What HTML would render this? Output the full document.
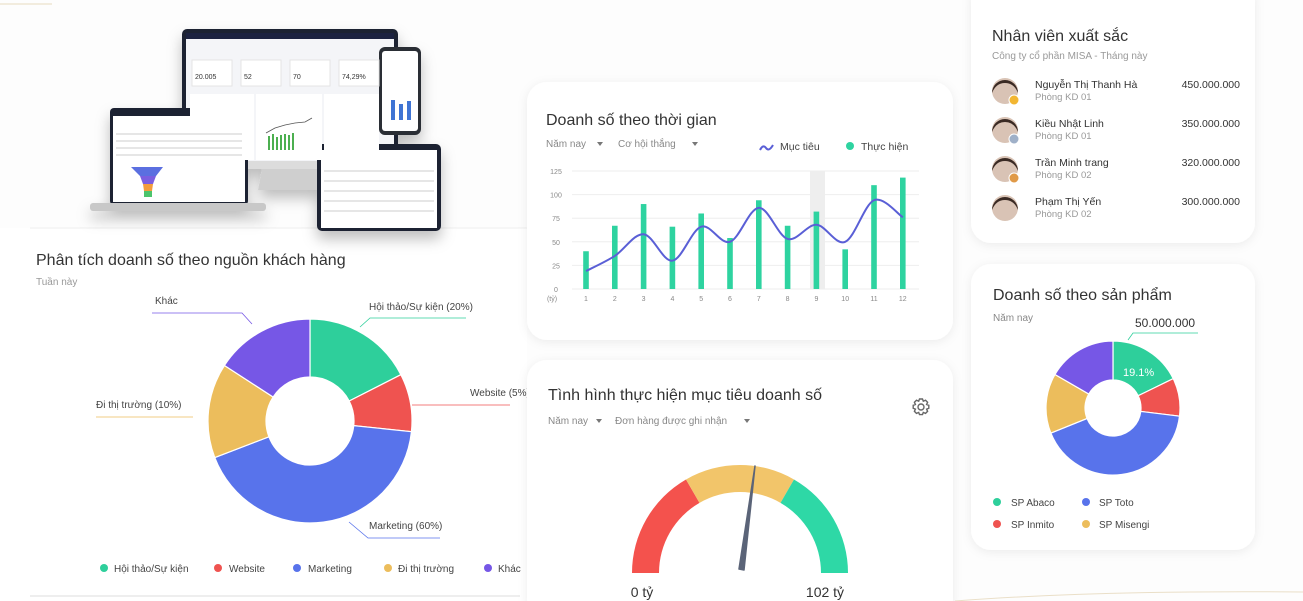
<!DOCTYPE html>
<html><head><meta charset="utf-8"><style>
html,body{margin:0;padding:0;background:#fdfdfd;width:1303px;height:601px;overflow:hidden;}
svg{display:block;font-family:"Liberation Sans","DejaVu Sans",sans-serif;}
</style></head><body>
<svg id="s" width="1303" height="601" viewBox="0 0 1303 601" xmlns="http://www.w3.org/2000/svg">
<defs>
<filter id="sh" x="-10%" y="-10%" width="120%" height="130%"><feDropShadow dx="0" dy="2" stdDeviation="5" flood-color="#000" flood-opacity="0.07"/></filter>
<filter id="dsh" x="-20%" y="-20%" width="140%" height="160%"><feDropShadow dx="0" dy="8" stdDeviation="7" flood-color="#000" flood-opacity="0.25"/></filter>
</defs>
<rect x="0" y="0" width="1303" height="601" fill="#fdfdfd"/>
<rect x="0" y="228" width="527" height="373" fill="#fff"/>
<line x1="0" y1="4" x2="52" y2="4" stroke="#e8dcc0" stroke-width="1"/>
<line x1="30" y1="228" x2="527" y2="228" stroke="#eee"/>
<line x1="30" y1="596" x2="520" y2="596" stroke="#eee" stroke-width="2"/>

<!-- devices -->
<g filter="url(#dsh)">
<rect x="182" y="29" width="216" height="136" rx="5" fill="#1d2230"/>
<rect x="186" y="39" width="208" height="122" fill="#f4f5f8"/>
<rect x="186" y="33" width="208" height="6" fill="#1b2040"/>
<rect x="186" y="161" width="208" height="8" fill="#dcdcdc"/>
<path d="M262 169 L318 169 L322 190 L258 190 Z" fill="#cfcfcf"/>
<rect x="110" y="108" width="138" height="97" rx="4" fill="#1d2230"/>
<rect x="113" y="116" width="132" height="86" fill="#fff"/>
<rect x="90" y="203" width="176" height="8" rx="3" fill="#c8c8c8"/>
<rect x="317" y="144" width="124" height="87" rx="5" fill="#1d2230"/>
<rect x="321" y="150" width="116" height="78" fill="#fff"/>
<rect x="379" y="47" width="42" height="88" rx="6" fill="#2a2d35"/>
<rect x="382" y="51" width="36" height="80" rx="3" fill="#fff"/>
</g>
<g>
<rect x="192" y="60" width="40" height="26" fill="#fff" stroke="#e4e4e4"/><text x="195" y="79" font-size="7" fill="#333">20.005</text>
<rect x="241" y="60" width="40" height="26" fill="#fff" stroke="#e4e4e4"/><text x="244" y="79" font-size="7" fill="#333">52</text>
<rect x="290" y="60" width="40" height="26" fill="#fff" stroke="#e4e4e4"/><text x="293" y="79" font-size="7" fill="#333">70</text>
<rect x="339" y="60" width="40" height="26" fill="#fff" stroke="#e4e4e4"/><text x="342" y="79" font-size="7" fill="#333">74,29%</text>
<rect x="190" y="94" width="64" height="66" fill="#fff"/><rect x="256" y="94" width="66" height="66" fill="#fff"/><rect x="324" y="94" width="55" height="66" fill="#fff"/>
<g fill="#4caf50"><rect x="268" y="136" width="2" height="14"/><rect x="272" y="134" width="2" height="16"/><rect x="276" y="137" width="2" height="13"/><rect x="280" y="135" width="2" height="15"/><rect x="284" y="134" width="2" height="16"/><rect x="288" y="135" width="2" height="15"/><rect x="292" y="133" width="2" height="17"/></g>
<polyline points="266,133 275,128 285,125 295,123 305,122 312,118" fill="none" stroke="#555" stroke-width="0.8"/>
<g fill="#3f74d4"><rect x="391" y="100" width="4" height="20"/><rect x="399" y="104" width="4" height="16"/><rect x="407" y="101" width="4" height="19"/></g>
<path d="M131 167 L163 167 L156 176 L140 176 Z" fill="#5b6fe0"/><path d="M140 176 L156 176 L153 184 L143 184 Z" fill="#7b5ee0"/><path d="M143 184 L153 184 L152 191 L144 191 Z" fill="#f39c3c"/><rect x="144" y="191" width="8" height="6" fill="#4cc46c"/>
<g fill="#e6e6e6"><rect x="116" y="133" width="126" height="2"/><rect x="116" y="140" width="126" height="2"/><rect x="116" y="147" width="126" height="2"/><rect x="116" y="154" width="126" height="2"/><rect x="324" y="170" width="110" height="2"/><rect x="324" y="180" width="110" height="2"/><rect x="324" y="190" width="110" height="2"/><rect x="324" y="200" width="110" height="2"/><rect x="324" y="210" width="110" height="2"/></g>
</g>

<!-- left donut -->
<text x="36" y="265" font-size="16" fill="#333">Phân tích doanh số theo nguồn khách hàng</text>
<text x="36" y="285" font-size="10" fill="#999">Tuần này</text>
<g id="d1"></g>
<g font-size="10" fill="#444">
<text x="155" y="304">Khác</text>
<polyline points="152,313 242,313 252,324" fill="none" stroke="#7657e6" stroke-width="0.8"/>
<text x="369" y="310">Hội thảo/Sự kiện (20%)</text>
<polyline points="360,327 370,318 466,318" fill="none" stroke="#2ecf9b" stroke-width="0.8"/>
<text x="470" y="396">Website (5%)</text>
<line x1="412" y1="405" x2="510" y2="405" stroke="#ef5350" stroke-width="0.8"/>
<text x="96" y="408">Đi thị trường (10%)</text>
<line x1="96" y1="417" x2="193" y2="417" stroke="#ecbd5c" stroke-width="0.8"/>
<text x="369" y="529">Marketing (60%)</text>
<polyline points="349,522 368,538 440,538" fill="none" stroke="#5873eb" stroke-width="0.8"/>
</g>
<g font-size="10" fill="#444">
<circle cx="104" cy="568" r="4" fill="#2ecf9b"/><text x="114" y="572">Hội thảo/Sự kiện</text>
<circle cx="218" cy="568" r="4" fill="#ef5350"/><text x="229" y="572">Website</text>
<circle cx="297" cy="568" r="4" fill="#5873eb"/><text x="308" y="572">Marketing</text>
<circle cx="388" cy="568" r="4" fill="#ecbd5c"/><text x="398" y="572">Đi thị trường</text>
<circle cx="488" cy="568" r="4" fill="#7657e6"/><text x="498" y="572">Khác</text>
</g>

<!-- middle top card -->
<rect x="527" y="82" width="426" height="258" rx="20" fill="#fff" filter="url(#sh)"/>
<text x="546" y="125" font-size="16" fill="#333">Doanh số theo thời gian</text>
<g font-size="10" fill="#888">
<text x="546" y="147">Năm nay</text><path d="M597 142 l6 0 l-3 4 z" fill="#777"/>
<text x="618" y="147">Cơ hội thắng</text><path d="M692 142 l6 0 l-3 4 z" fill="#777"/>
</g>
<path d="M760 150 q3 -6 6 -2 t7 -3" fill="none" stroke="#5a5fd6" stroke-width="2"/>
<text x="780" y="150" font-size="10.5" fill="#444">Mục tiêu</text>
<circle cx="850" cy="146" r="4" fill="#2ed3a0"/>
<text x="861" y="150" font-size="10.5" fill="#444">Thực hiện</text>
<g id="bar"></g>

<!-- middle bottom card -->
<rect x="527" y="360" width="426" height="260" rx="20" fill="#fff" filter="url(#sh)"/>
<text x="548" y="400" font-size="16" fill="#333">Tình hình thực hiện mục tiêu doanh số</text>
<g font-size="10" fill="#888">
<text x="548" y="424">Năm nay</text><path d="M596 419 l6 0 l-3 4 z" fill="#777"/>
<text x="615" y="424">Đơn hàng được ghi nhận</text><path d="M744 419 l6 0 l-3 4 z" fill="#777"/>
</g>
<g transform="translate(921,407)" fill="none" stroke="#666" stroke-width="1.4">
<circle r="3"/>
<path d="M-1.5 -8 h3 l0.8 2.2 l2.2 -1 l2.1 2.1 l-1 2.2 l2.2 0.8 v3 l-2.2 0.8 l1 2.2 l-2.1 2.1 l-2.2 -1 l-0.8 2.2 h-3 l-0.8 -2.2 l-2.2 1 l-2.1 -2.1 l1 -2.2 l-2.2 -0.8 v-3 l2.2 -0.8 l-1 -2.2 l2.1 -2.1 l2.2 1 z"/>
</g>
<g id="gauge"></g>
<text x="642" y="597" font-size="14" fill="#333" text-anchor="middle">0 tỷ</text>
<text x="825" y="597" font-size="14" fill="#333" text-anchor="middle">102 tỷ</text>

<!-- right top card -->
<rect x="971" y="-20" width="284" height="263" rx="20" fill="#fff" filter="url(#sh)"/>
<text x="992" y="41" font-size="16" fill="#333">Nhân viên xuất sắc</text>
<text x="992" y="59" font-size="10" fill="#999">Công ty cổ phần MISA - Tháng này</text>
<g id="emp"></g>

<!-- right bottom card -->
<rect x="971" y="264" width="284" height="286" rx="20" fill="#fff" filter="url(#sh)"/>
<text x="993" y="300" font-size="16" fill="#333">Doanh số theo sản phẩm</text>
<text x="993" y="321" font-size="10" fill="#888">Năm nay</text>
<g id="d2"></g>
<text x="1135" y="327" font-size="12" fill="#333">50.000.000</text>
<polyline points="1128,340 1133,333 1198,333" fill="none" stroke="#2ecf9b" stroke-width="0.8"/>
<text x="1123" y="376" font-size="11" fill="#fff">19.1%</text>
<g font-size="10" fill="#444">
<circle cx="997" cy="502" r="4" fill="#2ecf9b"/><text x="1011" y="506">SP Abaco</text>
<circle cx="1086" cy="502" r="4" fill="#5873eb"/><text x="1099" y="506">SP Toto</text>
<circle cx="997" cy="524" r="4" fill="#ef5350"/><text x="1011" y="528">SP Inmito</text>
<circle cx="1086" cy="524" r="4" fill="#ecbd5c"/><text x="1099" y="528">SP Misengi</text>
</g>
<path d="M955 601 Q1100 590 1303 592" fill="none" stroke="#eadfc8"/>
</svg>
<script>
var NS="http://www.w3.org/2000/svg";
function el(p,t,a){var e=document.createElementNS(NS,t);for(var k in a)e.setAttribute(k,a[k]);p.appendChild(e);return e;}
function arc(cx,cy,R,r,a0,a1){function pt(rad,a){a=(a-90)*Math.PI/180;return [cx+rad*Math.cos(a),cy+rad*Math.sin(a)];}
var l=(a1-a0)>180?1:0,p1=pt(R,a0),p2=pt(R,a1),p3=pt(r,a1),p4=pt(r,a0);
return "M"+p1+" A"+R+","+R+" 0 "+l+" 1 "+p2+" L"+p3+" A"+r+","+r+" 0 "+l+" 0 "+p4+" Z";}
var cols=["#2ecf9b","#ef5350","#5873eb","#ecbd5c","#7657e6"];
function donut(g,cx,cy,R,r,angs){var G=document.getElementById(g);for(var i=0;i<5;i++)el(G,"path",{d:arc(cx,cy,R,r,angs[i],angs[i+1]),fill:cols[i],stroke:"#fff","stroke-width":1.2});}
donut("d1",310,421,102,44,[0,63,96,249,303,360]);
donut("d2",1113,408,67,28,[0,64,97,248,300,360]);
var B=document.getElementById("bar");
var y0=289,k=118/125;
[0,25,50,75,100,125].forEach(function(v){var y=y0-v*k;el(B,"line",{x1:572,x2:919,y1:y,y2:y,stroke:"#eee"});var t=el(B,"text",{x:556,y:y+3,"font-size":7,fill:"#888","text-anchor":"middle"});t.textContent=v;});
var t=el(B,"text",{x:552,y:301,"font-size":7,fill:"#888","text-anchor":"middle"});t.textContent="(tỷ)";
el(B,"rect",{x:810,y:y0-125*k,width:15,height:125*k,fill:"#eee"});
var bars=[40,67,90,66,80,54,94,67,82,42,110,118],line=[19,35,58,30,66,50,86,53,68,50,94,76];
var pts=[];
for(var i=0;i<12;i++){var x=586+i*28.8;el(B,"rect",{x:x-2.8,y:y0-bars[i]*k,width:5.6,height:bars[i]*k,fill:"#2ed3a0"});
var tt=el(B,"text",{x:x,y:301,"font-size":7,fill:"#888","text-anchor":"middle"});tt.textContent=i+1;pts.push([x,y0-line[i]*k]);}
var d="M"+pts[0];for(var i=0;i<11;i++){var p0=pts[Math.max(0,i-1)],p1=pts[i],p2=pts[i+1],p3=pts[Math.min(11,i+2)];
d+=" C"+[p1[0]+(p2[0]-p0[0])/6,p1[1]+(p2[1]-p0[1])/6]+" "+[p2[0]-(p3[0]-p1[0])/6,p2[1]-(p3[1]-p1[1])/6]+" "+p2;}
el(B,"path",{d:d,fill:"none",stroke:"#5a5fd6","stroke-width":2});
var Gg=document.getElementById("gauge");
el(Gg,"path",{d:arc(740,573,108,81,-90,-30),fill:"#f4524d"});
el(Gg,"path",{d:arc(740,573,108,81,-30,30),fill:"#f2c56a"});
el(Gg,"path",{d:arc(740,573,108,81,30,90),fill:"#2ed8a6"});
el(Gg,"path",{d:"M739 569 L755 466 L744 570 Z",fill:"#5b6478",stroke:"#5b6478","stroke-width":1.5,"stroke-linejoin":"round"});
var E=document.getElementById("emp");
var emps=[["Nguyễn Thị Thanh Hà","Phòng KD 01","450.000.000",91,"#f2b632"],["Kiều Nhật Linh","Phòng KD 01","350.000.000",130,"#9fb0c8"],["Trần Minh trang","Phòng KD 02","320.000.000",169,"#e09a48"],["Phạm Thị Yến","Phòng KD 02","300.000.000",208,null]];
emps.forEach(function(e){var y=e[3];el(E,"circle",{cx:1005,cy:y,r:13,fill:"#d9c3b5"});el(E,"path",{d:"M992 "+(y+2)+" a13 13 0 0 1 26 0 q-4 -10 -13 -10 q-9 0 -13 10z",fill:"#3a2a24"});
if(e[4])el(E,"circle",{cx:1014,cy:y+9,r:5,fill:e[4],stroke:"#fff"});
var a=el(E,"text",{x:1035,y:y-3,"font-size":10.5,fill:"#333"});a.textContent=e[0];
var b=el(E,"text",{x:1035,y:y+9,"font-size":9.5,fill:"#999"});b.textContent=e[1];
var c=el(E,"text",{x:1240,y:y-3,"font-size":10.5,fill:"#333","text-anchor":"end"});c.textContent=e[2];});
</script>
</body></html>
